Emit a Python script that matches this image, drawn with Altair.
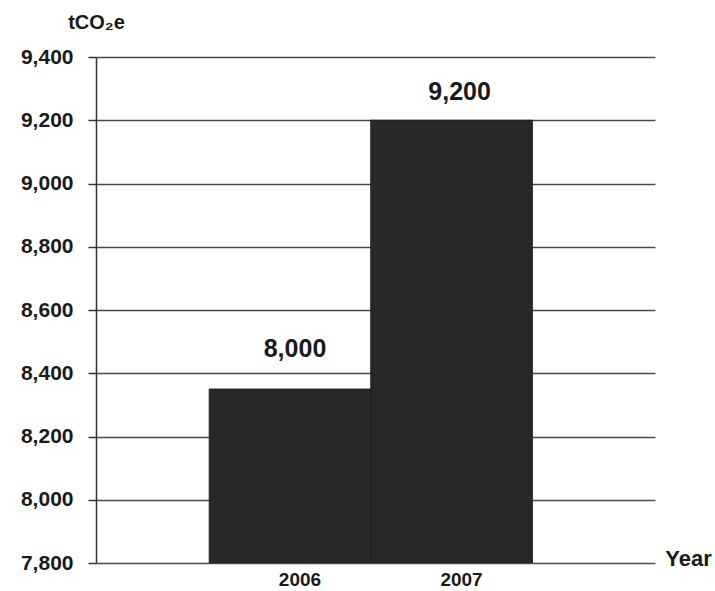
import altair as alt
import pandas as pd

years = ["2006", "2007"]
values = [8350, 9200]
labels = ["8,000", "9,200"]
y_ticks = [7800, 8000, 8200, 8400, 8600, 8800, 9000, 9200, 9400]

df = pd.DataFrame({"year": years, "value": values, "label": labels})

FONT = "Liberation Sans"

x_enc = alt.X(
    "year:N",
    scale=alt.Scale(paddingInner=0, paddingOuter=0.73, align=0.48),
    axis=alt.Axis(
        title="Year", titleX=592, titleY=-5, titleAlign="center", titleBaseline="middle",
        titleFontSize=22, titleFont=FONT, titleFontWeight="bold", titleColor="#1a1a1a",
        labelAngle=0, labelFontSize=19, labelFont=FONT, labelFontWeight="bold",
        labelColor="#1a1a1a", labelPadding=7, labelOffset=10,
        ticks=False, domain=False, grid=False,
    ),
)

y_enc = alt.Y(
    "value:Q",
    scale=alt.Scale(domain=[7800, 9400], nice=False, zero=False),
    axis=alt.Axis(
        values=y_ticks, format=",.0f", title="tCO₂e", titleAngle=0,
        titleX=0, titleY=-35, titleAlign="center", titleBaseline="middle",
        titleFontSize=20, titleFont=FONT, titleFontWeight="bold", titleColor="#1a1a1a",
        labelFontSize=21, labelFont=FONT, labelFontWeight="bold", labelColor="#1a1a1a",
        labelPadding=15, tickSize=8, tickColor="#333333", tickWidth=1.5,
        domain=True, domainColor="#333333", domainWidth=1.5,
        grid=True, gridColor="#4a4a4a", gridWidth=1.3,
    ),
)

base = alt.Chart(df)

bars = base.mark_bar(color="#282828", stroke="#1e1e1e", strokeWidth=1, clip=True).encode(
    x=x_enc, y=y_enc, y2=alt.datum(7800),
)

lab06 = base.transform_filter(alt.datum.year == "2006").mark_text(
    fontSize=25, font=FONT, fontWeight="bold", color="#1a1a1a", dy=-40, dx=5, baseline="middle"
).encode(x=x_enc, y=y_enc, text="label:N")

lab07 = base.transform_filter(alt.datum.year == "2007").mark_text(
    fontSize=25, font=FONT, fontWeight="bold", color="#1a1a1a", dy=-28, dx=8, baseline="middle"
).encode(x=x_enc, y=y_enc, text="label:N")

chart = alt.layer(bars, lab06, lab07).properties(
    width=559, height=506,
    autosize=alt.AutoSizeParams(type="none"),
    padding={"left": 96, "top": 57, "right": 60, "bottom": 28},
    background="white",
).configure_view(stroke=None)

chart.save("out.html", embed_options={"renderer": "svg", "actions": False})
